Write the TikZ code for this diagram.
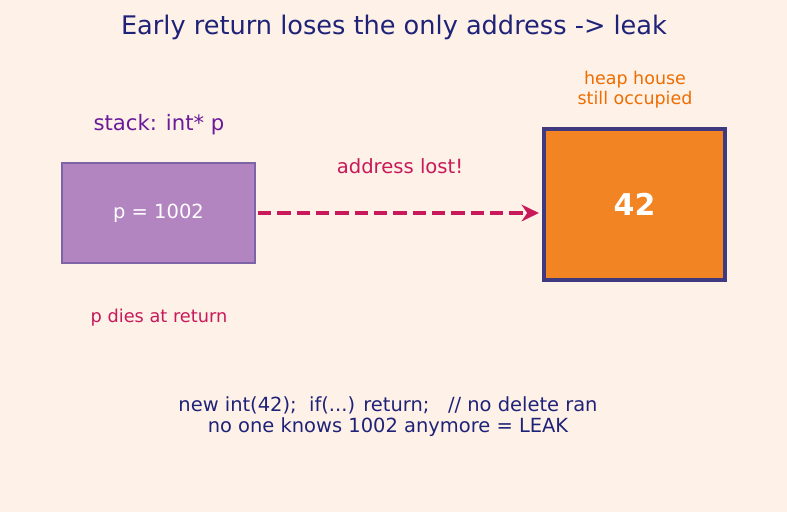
\documentclass[tikz,border=0pt]{standalone}
\usepackage{fontspec}
\usetikzlibrary{arrows.meta}
\setmainfont{DejaVu Sans}
\definecolor{paper}{RGB}{254, 241, 231}
\definecolor{titleblue}{RGB}{31, 35, 120}
\definecolor{stackfill}{RGB}{179, 133, 192}
\definecolor{stackedge}{RGB}{126, 100, 166}
\definecolor{heapfill}{RGB}{242, 132, 36}
\definecolor{heapedge}{RGB}{63, 58, 128}
\definecolor{lostred}{RGB}{200, 25, 90}
\definecolor{stackpurple}{RGB}{106, 27, 154}
\definecolor{heaporange}{RGB}{239, 108, 0}

\begin{document}
\begin{tikzpicture}[x=0.75pt, y=-0.75pt,
	stackbox/.style={draw=stackedge, fill=stackfill, line width=2.2pt, minimum width=144.75pt, minimum height=75pt, inner sep=0pt, text=white, font=\fontsize{14.6}{17}\selectfont},
	heapbox/.style={draw=heapedge, fill=heapfill, line width=2.6pt, minimum width=135.75pt, minimum height=113.25pt, inner sep=0pt, text=white, font=\fontsize{22.5}{26}\selectfont\bfseries},
	lostarrow/.style={draw=lostred, line width=2.5pt, dash pattern=on 10pt off 4.5pt, -{Stealth[length=13pt, width=12.5pt]}}]
	\fill [paper] (0, 0) rectangle (787, 512);
	\node [text=titleblue, font=\fontsize{19.2}{22}\selectfont] (title) at (394, 27) {Early return loses the only address -> leak};
	\node [stackbox] (stack) at (158.5, 213) {p = 1002};
	\node [heapbox] (heap) at (634.5, 204.5) {42};
	\node [text=stackpurple, font=\fontsize{15.9}{18}\selectfont] (stacklabel) at (159, 125) {stack: int* p};
	\node [text=heaporange, font=\fontsize{13.1}{15}\selectfont, align=center] (heaplabel) at (635, 90) {heap house\\still occupied};
	\node [text=lostred, font=\fontsize{14.7}{17}\selectfont] (lostlabel) at (400, 166) {address lost!};
	\node [text=lostred, font=\fontsize{13.3}{15}\selectfont] (dies) at (159, 318) {p dies at return};
	\coordinate (tail) at (258, 213);
	\draw [lostarrow, shorten >=2.5pt] (tail) -- (tail -| heap.west);
	\node [text=titleblue, font=\fontsize{14.6}{15.75}\selectfont, align=center] (summary) at (388, 417) {new int(42);\ \ if(...) return;\ \ \ // no delete ran\\no one knows 1002 anymore = LEAK};
\end{tikzpicture}
\end{document}
